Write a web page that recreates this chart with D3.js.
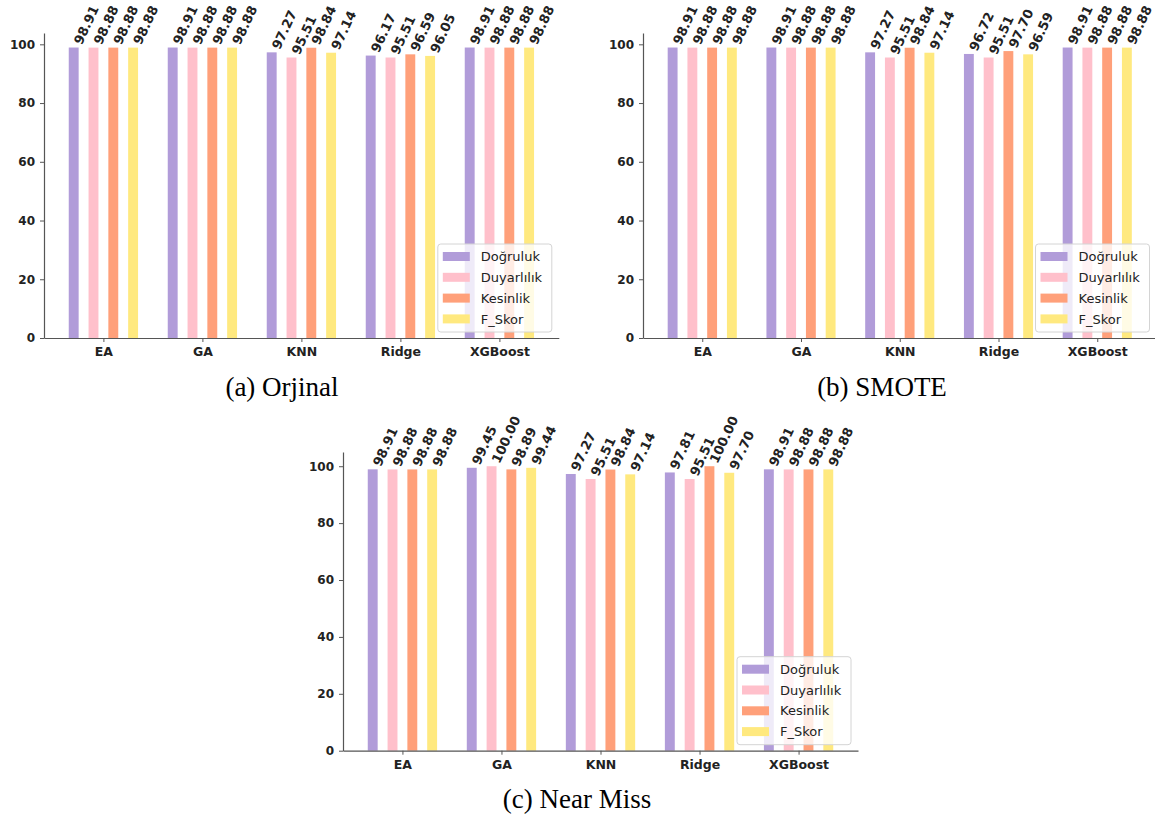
<!DOCTYPE html>
<html>
<head>
<meta charset="utf-8">
<script src="https://cdn.jsdelivr.net/npm/d3@7"></script>
<style>
  body { margin: 0; background: #fff; }
  svg { display: block; }
</style>
</head>
<body>
<svg id="my_svg"></svg>
<script>
// categories, metrics and values
const categories = ["EA", "GA", "KNN", "Ridge", "XGBoost"];
const metrics = ["Doğruluk", "Duyarlılık", "Kesinlik", "F_Skor"];
const yTicks = [0, 20, 40, 60, 80, 100];
const captions = ["(a) Orjinal", "(b) SMOTE", "(c) Near Miss"];

// one row per metric, one value per category
const orjinalValues = [
    [98.91, 98.91, 97.27, 96.17, 98.91],
    [98.88, 98.88, 95.51, 95.51, 98.88],
    [98.88, 98.88, 98.84, 96.59, 98.88],
    [98.88, 98.88, 97.14, 96.05, 98.88]
];
const smoteValues = [
    [98.91, 98.91, 97.27, 96.72, 98.91],
    [98.88, 98.88, 95.51, 95.51, 98.88],
    [98.88, 98.88, 98.84, 97.70, 98.88],
    [98.88, 98.88, 97.14, 96.59, 98.88]
];
const nearMissValues = [
    [98.91, 99.45, 97.27, 97.81, 98.91],
    [98.88, 100.00, 95.51, 95.51, 98.88],
    [98.88, 98.89, 98.84, 100.00, 98.88],
    [98.88, 99.44, 97.14, 97.70, 98.88]
];

const colors = ["#b19cd9", "#ffc0cb", "#ffa07a", "#ffe97f"];
const offsets = [-0.3, -0.1, 0.1, 0.3];

const width = 1155;
const height = 816;

const svg = d3.select('#my_svg')
    .attr('width', width)
    .attr('height', height);

// axes boxes of the three sub-figures
const panels = [
    { values: orjinalValues, left: 44, right: 558.8, zero: 338, top: 33, capX: 282, capY: 396 },
    { values: smoteValues, left: 643, right: 1156.5, zero: 338, top: 33, capX: 882, capY: 396 },
    { values: nearMissValues, left: 343, right: 858, zero: 750.7, top: 452, capX: 577, capY: 808 }
];

const fmt = d3.format(".2f");
const axisColor = "#555";

function drawPanel(p, caption) {
    const g = svg.append('g');
    const ymax = d3.max(p.values.flat()) * 1.05;

    const x = d3.scaleLinear().domain([-0.6, 4.6]).range([p.left, p.right]);
    const y = d3.scaleLinear().domain([0, ymax]).range([p.zero, p.top]);
    const bw = x(0.1) - x(0);

    // bars
    p.values.forEach((row, j) => {
        g.selectAll(null)
            .data(row).join('rect')
            .attr('x', (d, i) => x(i + offsets[j]) - bw / 2)
            .attr('y', d => y(d))
            .attr('width', bw)
            .attr('height', d => y(0) - y(d))
            .attr('fill', colors[j]);
    });

    // value labels, rotated
    p.values.forEach((row, j) => {
        g.selectAll(null)
            .data(row).join('text')
            .attr('transform', (d, i) => `translate(${x(i + offsets[j]) + 8},${y(d) - 2}) rotate(-65)`)
            .attr('font-family', 'DejaVu Sans')
            .attr('font-size', 13)
            .attr('font-weight', 'bold')
            .attr('fill', '#222')
            .text(d => fmt(d));
    });

    // y axis
    const yAxis = g.append('g')
        .attr('transform', `translate(${p.left},0)`)
        .call(d3.axisLeft(y).tickValues(yTicks).tickSize(4).tickSizeOuter(0).tickPadding(5));
    // x axis
    const xAxis = g.append('g')
        .attr('transform', `translate(0,${p.zero})`)
        .call(d3.axisBottom(x).tickValues(d3.range(categories.length))
            .tickFormat(i => categories[i]).tickSize(4).tickSizeOuter(0).tickPadding(5));

    [yAxis, xAxis].forEach(a => {
        a.select('.domain').attr('stroke', axisColor).attr('stroke-width', 1.2);
        a.selectAll('.tick line').attr('stroke', axisColor).attr('stroke-width', 1);
        a.selectAll('.tick text')
            .attr('font-family', 'DejaVu Sans')
            .attr('font-weight', 'bold')
            .attr('fill', '#222');
    });
    yAxis.selectAll('.tick text').attr('font-size', 12);
    xAxis.selectAll('.tick text').attr('font-size', 12.5);

    // legend, lower right
    const lw = 114, lh = 88;
    const lx = p.right - 7 - lw;
    const ly = p.zero - 6 - lh;
    const leg = g.append('g').attr('transform', `translate(${lx},${ly})`);
    leg.append('rect')
        .attr('width', lw).attr('height', lh)
        .attr('rx', 3)
        .attr('fill', '#fff').attr('fill-opacity', 0.8)
        .attr('stroke', '#d4d4d4');
    const items = leg.selectAll('.item')
        .data(metrics).join('g')
        .attr('class', 'item')
        .attr('transform', (d, i) => `translate(5,${12.5 + i * 20.8})`);
    items.append('rect')
        .attr('y', -4.5).attr('width', 27).attr('height', 9)
        .attr('fill', (d, i) => colors[i]);
    items.append('text')
        .attr('x', 38).attr('dy', '0.36em')
        .attr('font-family', 'DejaVu Sans')
        .attr('font-size', 13)
        .attr('fill', '#222')
        .text(d => d);

    // caption below
    svg.append('text')
        .attr('x', p.capX).attr('y', p.capY)
        .attr('text-anchor', 'middle')
        .attr('font-family', 'Liberation Serif')
        .attr('font-size', 27)
        .attr('fill', '#000')
        .text(caption);
}

panels.forEach((p, k) => drawPanel(p, captions[k]));
</script>
</body>
</html>
